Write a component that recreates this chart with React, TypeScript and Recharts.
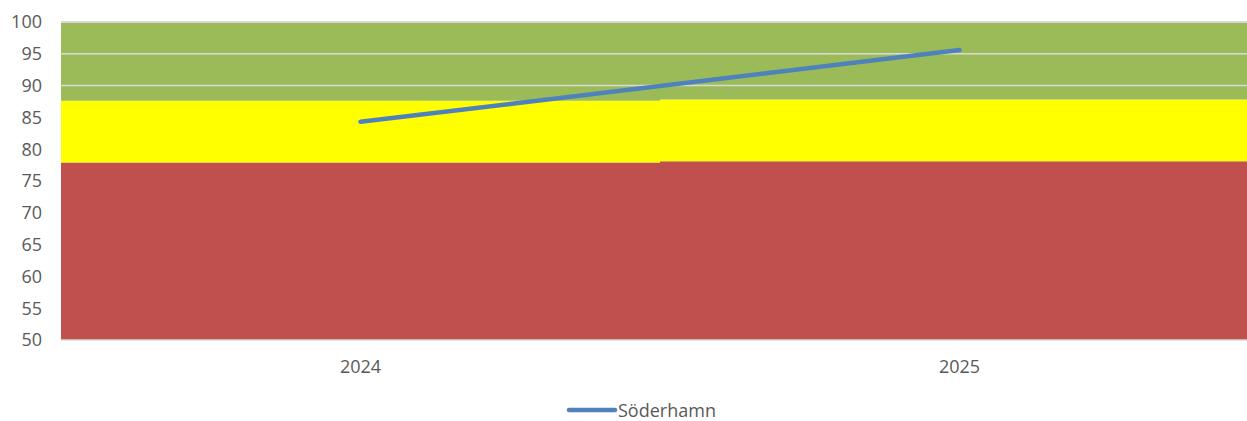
import { ComposedChart, Bar, Line, XAxis, YAxis, ReferenceLine, Legend } from 'recharts';

// Categories and values
const years = ['2024', '2025'];
const redLevel = [77.9, 78.1];
const yellowBand = [9.7, 9.7];
const greenBand = [12.4, 12.2];
const soderhamn = [84.3, 95.6];
const yTicks = [50, 55, 60, 65, 70, 75, 80, 85, 90, 95, 100];
const visibleGrid = [90, 95, 100];

const data = years.map((year, i) => ({
  year,
  red: redLevel[i],
  yellow: yellowBand[i],
  green: greenBand[i],
  Söderhamn: soderhamn[i],
}));

const FONT = '"Open Sans", "Liberation Sans", sans-serif';

// Legend with a line swatch, like the original
function LineLegend() {
  return (
    <div
      style={{
        display: 'flex',
        alignItems: 'center',
        boxSizing: 'border-box',
        height: 30,
        paddingTop: 8,
        paddingLeft: 566,
      }}
    >
      <svg width={52} height={10}>
        <line x1={3} y1={5} x2={49} y2={5} stroke="#4f81bd" strokeWidth={4.5} strokeLinecap="round" />
      </svg>
      <span style={{ fontFamily: FONT, fontSize: 18, color: '#595959', lineHeight: '16px' }}>Söderhamn</span>
    </div>
  );
}

export default function App() {
  // plot area runs past the right edge of the picture, as in the reference
  return (
    <div style={{ position: 'absolute', left: 0, top: 0, width: 1247, height: 421, overflow: 'hidden', background: '#fff' }}>
      <ComposedChart
        width={1261}
        height={421}
        data={data}
        margin={{ top: 22, right: 2, bottom: 0, left: 0 }}
        barCategoryGap={0}
      >
        <XAxis
          dataKey="year"
          axisLine={{ stroke: '#d9d9d9', strokeWidth: 1.5 }}
          tickLine={false}
          tickSize={0}
          tickMargin={20}
          height={51}
          tick={{ fill: '#595959', fontSize: 18, fontFamily: FONT }}
        />
        <YAxis
          domain={[50, 100]}
          ticks={yTicks}
          allowDataOverflow
          axisLine={false}
          tickLine={false}
          tickSize={0}
          tickMargin={19}
          width={61}
          interval={0}
          tick={{ fill: '#595959', fontSize: 18, fontFamily: FONT }}
        />
        <Bar dataKey="red" stackId="bands" fill="#c0504d" isAnimationActive={false} legendType="none" />
        <Bar dataKey="yellow" stackId="bands" fill="#ffff00" isAnimationActive={false} legendType="none" />
        <Bar dataKey="green" stackId="bands" fill="#9bbb59" isAnimationActive={false} legendType="none" />
        {visibleGrid.map((v) => (
          <ReferenceLine key={v} y={v} stroke="#d9d9d9" strokeWidth={v === 100 ? 2 : 1.5} />
        ))}
        <Line
          type="linear"
          dataKey="Söderhamn"
          stroke="#4f81bd"
          strokeWidth={4.5}
          strokeLinecap="round"
          dot={false}
          isAnimationActive={false}
        />
        <Legend verticalAlign="bottom" height={30} content={<LineLegend />} />
      </ComposedChart>
    </div>
  );
}
